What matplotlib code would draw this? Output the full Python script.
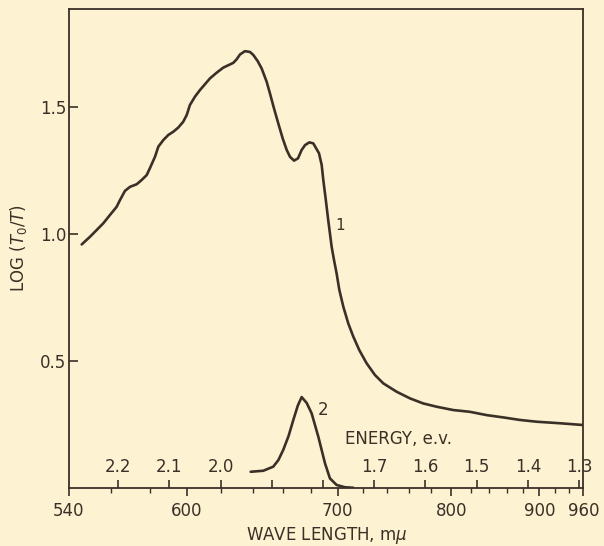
import matplotlib
matplotlib.use("Agg")
import matplotlib.pyplot as plt
import numpy as np

HC = 1239.84  # eV*nm

# Curve 1: wavelength (m-mu) and LOG(T0/T)
wl1 = [545.9, 549.8, 556.2, 559.5, 562.8, 564.5, 567.0, 569.6, 573.0, 575.6,
       578.2, 579.9, 582.6, 584.4, 587.1, 589.8, 592.6, 595.3, 598.1, 600.1,
       601.9, 604.8, 607.7, 613.6, 617.5, 621.5, 627.7, 629.8, 631.9, 635.0,
       638.2, 640.4, 643.2, 645.8, 649.1, 651.3, 654.0, 656.9, 659.9, 662.7,
       665.0, 667.8, 670.6, 673.2, 675.6, 678.7, 681.6, 685.8, 687.8, 689.0,
       690.9, 692.7, 694.0, 695.3, 697.1, 699.1, 701.2, 704.3, 708.2, 712.2,
       717.0, 723.0, 729.9, 737.0, 748.6, 760.5, 772.8, 785.7, 802.1, 819.4,
       837.5, 856.2, 875.9, 896.6, 927.1, 959.7]
od1 = [0.959, 0.989, 1.042, 1.075, 1.107, 1.134, 1.170, 1.186, 1.196, 1.213,
       1.232, 1.259, 1.304, 1.344, 1.370, 1.390, 1.403, 1.419, 1.442, 1.469,
       1.508, 1.541, 1.567, 1.613, 1.635, 1.655, 1.674, 1.688, 1.707, 1.720,
       1.717, 1.705, 1.681, 1.652, 1.600, 1.554, 1.495, 1.436, 1.377, 1.331,
       1.304, 1.289, 1.298, 1.331, 1.350, 1.361, 1.357, 1.318, 1.272, 1.213,
       1.134, 1.055, 1.003, 0.950, 0.898, 0.845, 0.780, 0.714, 0.648, 0.596,
       0.543, 0.491, 0.445, 0.412, 0.379, 0.353, 0.333, 0.320, 0.307, 0.300,
       0.287, 0.278, 0.268, 0.261, 0.255, 0.248]

# Curve 2
wl2 = [638.7, 646.9, 653.5, 657.0, 660.3, 664.0, 667.3, 670.5, 673.2, 676.8,
       680.4, 685.3, 690.3, 694.0, 699.1, 705.6, 712.2]
od2 = [0.064, 0.068, 0.084, 0.110, 0.150, 0.205, 0.268, 0.325, 0.358, 0.335,
       0.294, 0.202, 0.097, 0.038, 0.012, 0.003, 0.001]

wl_major = [540, 600, 700, 800, 900, 960]
wl_minor = [560, 580, 620, 640, 660, 680, 720, 740, 760, 780, 820, 840, 860,
            880, 920, 940]
energy_ticks = [2.2, 2.1, 2.0, 1.9, 1.8, 1.7, 1.6, 1.5, 1.4, 1.3]
energy_labels = ["2.2", "2.1", "2.0", "", "", "1.7", "1.6", "1.5", "1.4", "1.3"]
y_ticks = [0.5, 1.0, 1.5]
y_labels = ["0.5", "1.0", "1.5"]

BG = "#fdf3d2"
INK = "#3a3027"


def to_ev(w):
    return HC / np.asarray(w, dtype=float)


plt.rcParams['font.family'] = ['DejaVu Sans']
fig = plt.figure(figsize=(6.04, 5.46), dpi=100, facecolor=BG)
ax = fig.add_axes([0.1142, 0.1062, 0.8518, 0.8773], facecolor=BG)

# x axis is linear in photon energy (high energy on the left)
ax.set_xlim(to_ev(540), to_ev(960))
ax.set_ylim(0, 1.886)

ax.plot(to_ev(wl1), od1, color=INK, lw=1.9, solid_capstyle='round',
        solid_joinstyle='round')
ax.plot(to_ev(wl2), od2, color=INK, lw=1.9, solid_capstyle='round',
        solid_joinstyle='round')

for s in ax.spines.values():
    s.set_color(INK)
    s.set_linewidth(1.3)

# wavelength ticks placed at their energy positions
ax.set_xticks(to_ev(wl_major))
ax.set_xticklabels([str(v) for v in wl_major])
ax.set_xticks(to_ev(wl_minor), minor=True)
ax.tick_params(axis='x', which='major', direction='out', length=6, width=1.2,
               colors=INK, labelsize=12, pad=4)
ax.tick_params(axis='x', which='minor', direction='out', length=3.5, width=1.0,
               colors=INK)

ax.set_yticks(y_ticks)
ax.set_yticklabels(y_labels)
ax.yaxis.set_minor_locator(matplotlib.ticker.NullLocator())
ax.tick_params(axis='y', which='major', direction='in', length=6.5, width=1.2,
               colors=INK, labelsize=12, pad=2)

# Energy scale inside the plot, along the bottom spine
sec = ax.secondary_xaxis(0.0, functions=(lambda e: e, lambda e: e))
sec.set_alignment('top')
sec.set_xticks(energy_ticks)
sec.set_xticklabels(energy_labels)
sec.xaxis.set_minor_locator(matplotlib.ticker.NullLocator())
sec.tick_params(axis='x', which='major', direction='out', length=6, width=1.2,
                colors=INK, labelsize=12, pad=3)
for s in sec.spines.values():
    s.set_visible(False)

ax.set_xlabel(r"WAVE LENGTH, m$\mu$", fontsize=12, color=INK, labelpad=4)
ax.set_ylabel(r"LOG ($T_0/T$)", fontsize=12, color=INK, labelpad=8)

ax.text(0.536, 0.102, "ENERGY, e.v.", transform=ax.transAxes, fontsize=12,
        color=INK, ha='left', va='center')
ax.text(to_ev(701.7), 1.035, "1", fontsize=11, color=INK, ha='center', va='center')
ax.text(to_ev(689.0), 0.307, "2", fontsize=12, color=INK, ha='center', va='center')

fig.savefig("out.png", dpi=100, facecolor=BG)
